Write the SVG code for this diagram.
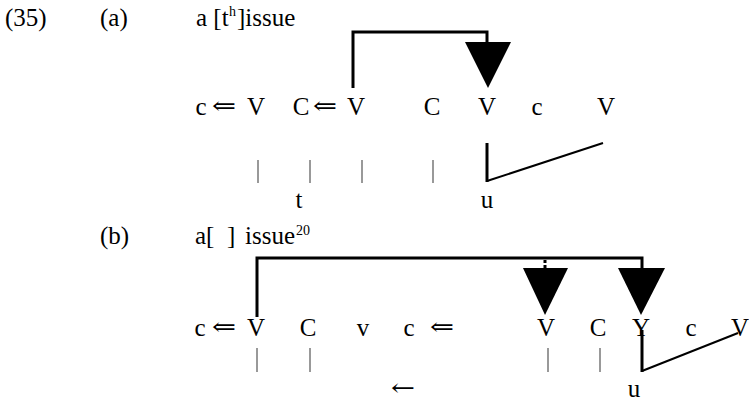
<svg xmlns="http://www.w3.org/2000/svg" width="749" height="401" viewBox="0 0 749 401">
<style>
text{font-family:"Liberation Serif","DejaVu Serif",serif;font-size:25px;fill:#000}
.m{text-anchor:middle}
.ar{font-family:"DejaVu Serif",serif;font-size:24px}
.sup{font-size:14px}
.thick{fill:none;stroke:#000;stroke-width:3}
.thin{fill:none;stroke:#000;stroke-width:2}
.bar{stroke:#777;stroke-width:1.5}
.tri{fill:#000}
</style>
<rect width="749" height="401" fill="#fff"/>
<g id="labels">
<text x="5" y="26">(35)</text>
<text x="100" y="26">(a)</text>
<text x="196" y="26">a [t</text>
<text x="229" y="16" class="sup">h</text>
<text x="237" y="26">]issue</text>
<text x="100" y="244">(b)</text>
<text x="195" y="244">a[</text>
<text x="227" y="244">]</text>
<text x="245" y="244">issue</text>
<text x="296" y="235" class="sup">20</text>
</g>
<g id="row-a">
<text class="m" x="201" y="115">c</text>
<text class="ar" x="212" y="114" textLength="24" lengthAdjust="spacingAndGlyphs">⇐</text>
<text class="m" x="256" y="115">V</text>
<text class="m" x="301" y="115">C</text>
<text class="ar" x="313" y="114" textLength="24" lengthAdjust="spacingAndGlyphs">⇐</text>
<text class="m" x="356" y="115">V</text>
<text class="m" x="432" y="115">C</text>
<text class="m" x="487" y="115">V</text>
<text class="m" x="537" y="115">c</text>
<text class="m" x="606" y="115">V</text>
<text class="m" x="299" y="208">t</text>
<text class="m" x="487" y="208">u</text>
</g>
<g id="row-b">
<text class="m" x="200" y="336">c</text>
<text class="ar" x="212" y="335" textLength="24" lengthAdjust="spacingAndGlyphs">⇐</text>
<text class="m" x="256" y="336">V</text>
<text class="m" x="308" y="336">C</text>
<text class="m" x="363" y="336">v</text>
<text class="m" x="409" y="336">c</text>
<text class="ar" x="430" y="335" textLength="24" lengthAdjust="spacingAndGlyphs">⇐</text>
<text class="m" x="546" y="336">V</text>
<text class="m" x="598" y="336">C</text>
<text class="m" x="641" y="336">Y</text>
<text class="m" x="691" y="336">c</text>
<text class="m" x="740" y="336">V</text>
<text class="ar" x="391" y="396" textLength="24" lengthAdjust="spacingAndGlyphs">←</text>
<text class="m" x="634" y="397">u</text>
</g>
<g id="connectors">
<path class="thick" d="M353,88 V32 H487 V42"/>
<polygon class="tri" points="465,42 511,42 488,88"/>
<line class="bar" x1="258" y1="160" x2="258" y2="183"/>
<line class="bar" x1="310" y1="160" x2="310" y2="183"/>
<line class="bar" x1="362" y1="160" x2="362" y2="183"/>
<line class="bar" x1="433" y1="160" x2="433" y2="183"/>
<line class="thick" x1="487" y1="143" x2="487" y2="182"/>
<line class="thin" x1="487" y1="181" x2="603" y2="143"/>
<path class="thick" d="M257,317 V258 H642 V268"/>
<line class="thick" x1="545" y1="260" x2="545" y2="268" stroke-dasharray="3,2"/>
<polygon class="tri" points="523,268 568,268 545,315"/>
<polygon class="tri" points="618,268 665,268 641,315"/>
<line class="bar" x1="257" y1="348" x2="257" y2="372"/>
<line class="bar" x1="310" y1="348" x2="310" y2="372"/>
<line class="bar" x1="548" y1="348" x2="548" y2="372"/>
<line class="bar" x1="600" y1="348" x2="600" y2="372"/>
<line class="thick" x1="642" y1="330" x2="642" y2="372"/>
<line class="thin" x1="642" y1="371" x2="738" y2="333"/>
</g>
</svg>
